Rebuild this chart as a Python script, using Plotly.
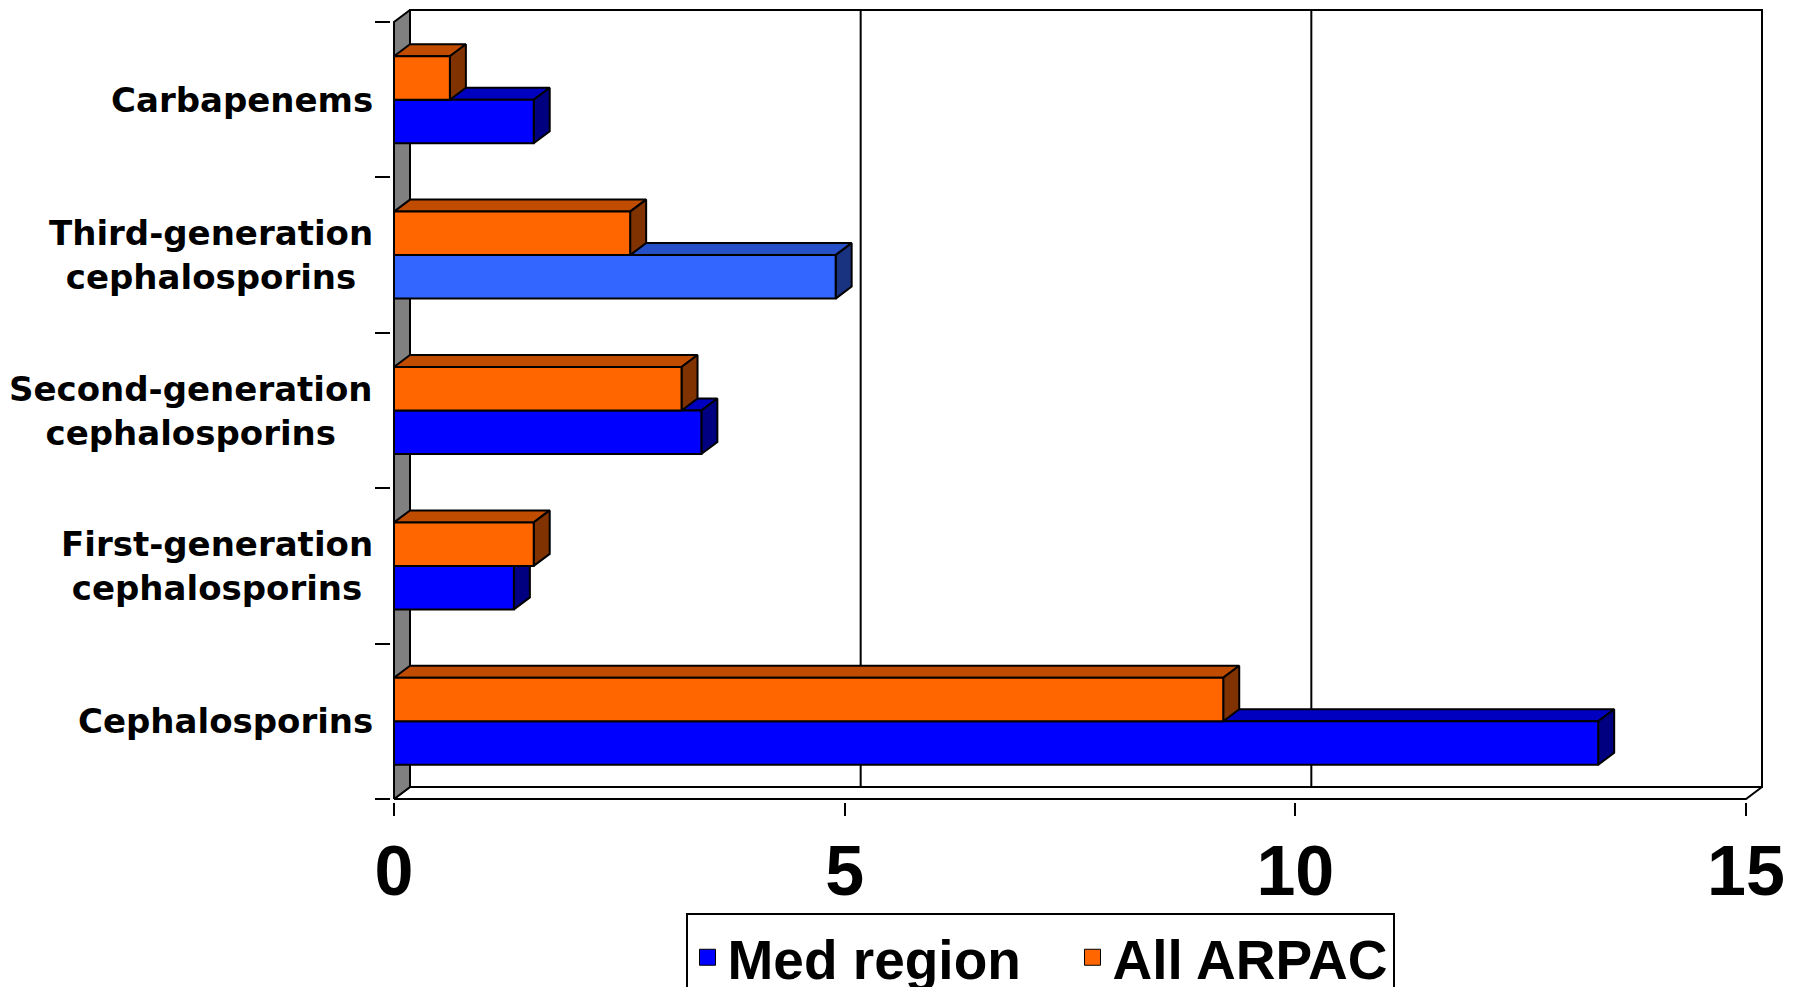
import plotly.graph_objects as go

# values (bottom to top)
categories = [
    "Cephalosporins",
    "First-generation<br>cephalosporins",
    "Second-generation<br>cephalosporins",
    "Third-generation<br>cephalosporins",
    "Carbapenems",
]
med_region = [13.36, 1.33, 3.41, 4.90, 1.55]
all_arpac = [9.20, 1.55, 3.19, 2.62, 0.62]
x_ticks = [0, 5, 10, 15]
highlight = "Third-generation<br>cephalosporins"

# figure geometry in px (page body adds an 8px margin)
W, H = 1790, 979
ML, MR, MT, MB = 383, 25, 0, 185
X_LEFT, X_RIGHT = 386, 1738      # front plane x=0 / x=15
Y_TOP, Y_BOT = 14, 791           # front plane top / floor
PX_X = (X_RIGHT - X_LEFT) / 15
PX_Y = (Y_BOT - Y_TOP) / len(categories)
X0 = -(X_LEFT - ML) / PX_X
X1 = (W - MR - X_LEFT) / PX_X
Y0 = -0.5 - (H - MB - Y_BOT) / PX_Y
Y1 = len(categories) - 0.5 + (Y_TOP - MT) / PX_Y
DX = 16 / PX_X                   # 3d depth offset
DY = 12 / PX_Y
BAR_H = 0.28

BLUE = ("#0000FF", "#0000C0", "#000080")
BLUE_HI = ("#3366FF", "#2650C8", "#1A3380")
ORANGE = ("#FF6600", "#C04C00", "#803300")


def poly(xs, ys, fill, lw=2):
    return go.Scatter(x=xs + [xs[0]], y=ys + [ys[0]], fill="toself", fillcolor=fill,
                      mode="lines", line=dict(color="black", width=lw),
                      hoverinfo="skip", showlegend=False)


def box(v, yb, yt, cols):
    front, top, side = cols
    return [
        poly([0, v, v + DX, DX], [yt, yt, yt + DY, yt + DY], top),
        poly([v, v + DX, v + DX, v], [yb, yb + DY, yt + DY, yt], side),
        poly([0, v, v, 0], [yb, yb, yt, yt], front),
    ]


fig = go.Figure()
n = len(categories)
lo, hi = -0.5, n - 0.5

# back wall, floor and left wall
fig.add_trace(poly([DX, 15 + DX, 15 + DX, DX], [lo + DY, lo + DY, hi + DY, hi + DY], "white"))
for t in x_ticks[1:-1]:
    fig.add_trace(go.Scatter(x=[t, t + DX, t + DX], y=[lo, lo + DY, hi + DY], mode="lines",
                             line=dict(color="black", width=2), hoverinfo="skip", showlegend=False))
fig.add_trace(poly([0, 15, 15 + DX, DX], [lo, lo, lo + DY, lo + DY], "white"))
fig.add_trace(poly([0, DX, DX, 0], [lo, lo + DY, hi + DY, hi], "#808080"))

for i, cat in enumerate(categories):
    cols = BLUE_HI if cat == highlight else BLUE
    for tr in box(med_region[i], i - BAR_H, i, cols):
        fig.add_trace(tr)
    for tr in box(all_arpac[i], i, i + BAR_H, ORANGE):
        fig.add_trace(tr)

# legend entries
fig.add_trace(go.Scatter(x=[None], y=[None], mode="markers", name="Med region", legendwidth=340,
                         marker=dict(symbol="square", size=16, color=BLUE[0],
                                     line=dict(color="black", width=1))))
fig.add_trace(go.Scatter(x=[None], y=[None], mode="markers", name="All ARPAC",
                         marker=dict(symbol="square", size=16, color=ORANGE[0],
                                     line=dict(color="black", width=1))))

# category labels
plot_w = W - ML - MR
for i, cat in enumerate(categories):
    fig.add_annotation(x=(367 - ML) / plot_w, xref="paper", y=i, yref="y",
                       text=cat, showarrow=False, xanchor="right", yanchor="middle",
                       align="center",
                       font=dict(family="DejaVu Sans", size=34, color="black", weight="bold"))

fig.update_layout(
    width=W, height=H,
    margin=dict(l=ML, r=MR, t=MT, b=MB, autoexpand=False),
    plot_bgcolor="white", paper_bgcolor="white",
    xaxis=dict(range=[X0, X1], tickmode="array", tickvals=x_ticks,
               ticks="outside", ticklen=13, tickwidth=2, tickcolor="black",
               ticklabelstandoff=-5,
               showgrid=False, zeroline=False, showline=False,
               tickfont=dict(family="Liberation Sans, Arial", size=70, color="black", weight="bold")),
    yaxis=dict(range=[Y0, Y1], tickmode="array",
               tickvals=[k - 0.5 for k in range(n + 1)],
               ticks="outside", ticklen=15, tickwidth=2, tickcolor="black",
               showticklabels=False, showgrid=False, zeroline=False, showline=False),
    showlegend=True,
    legend=dict(orientation="h", x=(1032 - ML) / plot_w, xanchor="center",
                y=-(905 - (H - MB)) / (H - MB - MT), yanchor="top",
                bgcolor="white", bordercolor="black", borderwidth=2,
                font=dict(family="Liberation Sans, Arial", size=55, color="black", weight="bold")),
)

fig.write_html("out.html")
